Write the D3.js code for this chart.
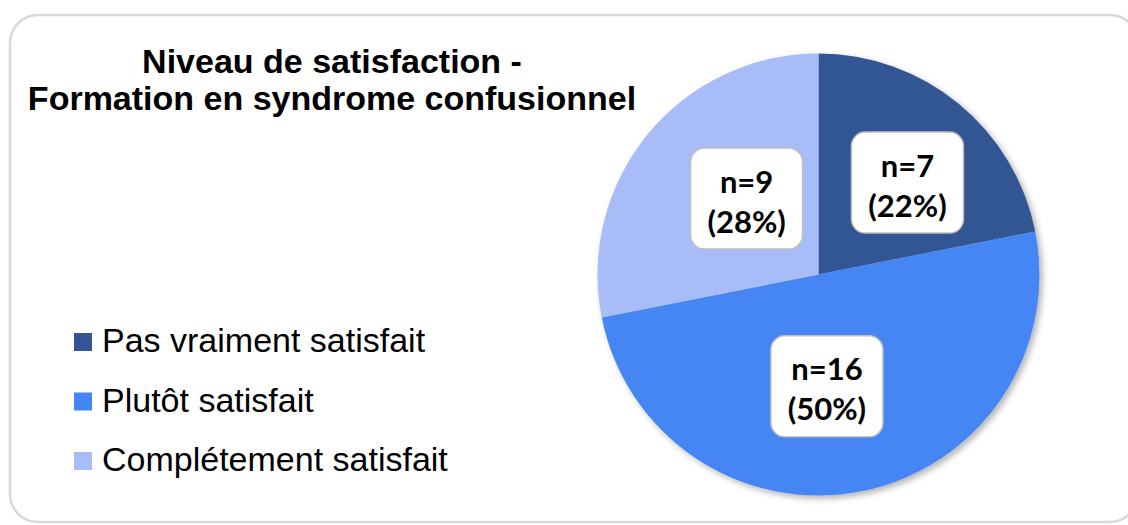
<!DOCTYPE html>
<html>
<head>
<meta charset="utf-8">
<script src="https://cdn.jsdelivr.net/npm/d3@7"></script>
<style>
  html, body { margin: 0; padding: 0; background: #fff; }
  svg { display: block; }
</style>
</head>
<body>
<div id="chart"></div>
<script>
// données du graphique
const categories = ["Pas vraiment satisfait", "Plutôt satisfait", "Complétement satisfait"];
const counts = [7, 16, 9];
const percents = [22, 50, 28];
const titleLines = ["Niveau de satisfaction -", "Formation en syndrome confusionnel"];

const width = 1128;
const height = 525;
const colors = ["#335593", "#4485F4", "#A8BDF7"];

// petit décalage des étiquettes (comme dans l'original)
const labelNudge = [[16, -3], [-14, -1], [17, -3]];

const svg = d3.select("#chart")
    .append("svg")
    .attr("width", width)
    .attr("height", height);

const defs = svg.append("defs");
const shadow = defs.append("filter")
    .attr("id", "shadow")
    .attr("x", "-10%").attr("y", "-10%")
    .attr("width", "130%").attr("height", "130%");
shadow.append("feDropShadow")
    .attr("dx", 3).attr("dy", 3)
    .attr("stdDeviation", 3)
    .attr("flood-color", "#000")
    .attr("flood-opacity", 0.3);

// cadre arrondi
svg.append("rect")
    .attr("x", 10)
    .attr("y", 15)
    .attr("width", 1128)
    .attr("height", 507)
    .attr("rx", 28)
    .attr("fill", "#fff")
    .attr("stroke", "#d9d9d9")
    .attr("stroke-width", 2.5);

// titre
svg.append("text")
    .attr("x", 332)
    .attr("y", 73)
    .attr("text-anchor", "middle")
    .style("font-family", "'Liberation Sans', Arial, sans-serif")
    .style("font-weight", "bold")
    .style("font-size", "34px")
    .selectAll("tspan")
    .data(titleLines)
    .enter()
    .append("tspan")
    .attr("x", 332)
    .attr("dy", (d, i) => i === 0 ? 0 : 37)
    .text(d => d);

// camembert
const cx = 818.5, cy = 274.5, radius = 221;

const pie = d3.pie().sort(null).value(d => d);
const arcs = pie(counts);
const arc = d3.arc().innerRadius(0).outerRadius(radius);
const labelArc = d3.arc().innerRadius(115).outerRadius(115);

const g = svg.append("g")
    .attr("transform", `translate(${cx}, ${cy})`);

g.append("g")
    .attr("filter", "url(#shadow)")
    .selectAll("path")
    .data(arcs)
    .enter()
    .append("path")
    .attr("d", arc)
    .attr("fill", (d, i) => colors[i]);

// étiquettes
const boxW = 112, boxH = 101;
const labels = g.selectAll(".lbl")
    .data(arcs)
    .enter()
    .append("g")
    .attr("class", "lbl")
    .attr("transform", (d, i) => {
        const c = labelArc.centroid(d);
        return `translate(${c[0] + labelNudge[i][0]}, ${c[1] + labelNudge[i][1]})`;
    });

labels.append("rect")
    .attr("x", -boxW / 2)
    .attr("y", -boxH / 2)
    .attr("width", boxW)
    .attr("height", boxH)
    .attr("rx", 14)
    .attr("fill", "#fff")
    .attr("stroke", "#bfbfbf")
    .attr("stroke-width", 1.5);

labels.append("text")
    .attr("text-anchor", "middle")
    .style("font-family", "Lato, 'Open Sans', sans-serif")
    .style("font-weight", "bold")
    .style("font-size", "31px")
    .style("fill", "#000")
    .each(function (d, i) {
        const t = d3.select(this);
        t.append("tspan").attr("x", 0).attr("y", -6).text(`n=${counts[i]}`);
        t.append("tspan").attr("x", 0).attr("y", 34).text(`(${percents[i]}%)`);
    });

// légende
const legend = svg.append("g")
    .selectAll("g")
    .data(categories)
    .enter()
    .append("g")
    .attr("transform", (d, i) => `translate(74, ${333 + i * 59.5})`);

legend.append("rect")
    .attr("width", 18)
    .attr("height", 18)
    .attr("fill", (d, i) => colors[i]);

legend.append("text")
    .attr("x", 28)
    .attr("y", 19)
    .style("font-family", "'Liberation Sans', Arial, sans-serif")
    .style("font-size", "34px")
    .style("fill", "#000")
    .text(d => d);
</script>
</body>
</html>
